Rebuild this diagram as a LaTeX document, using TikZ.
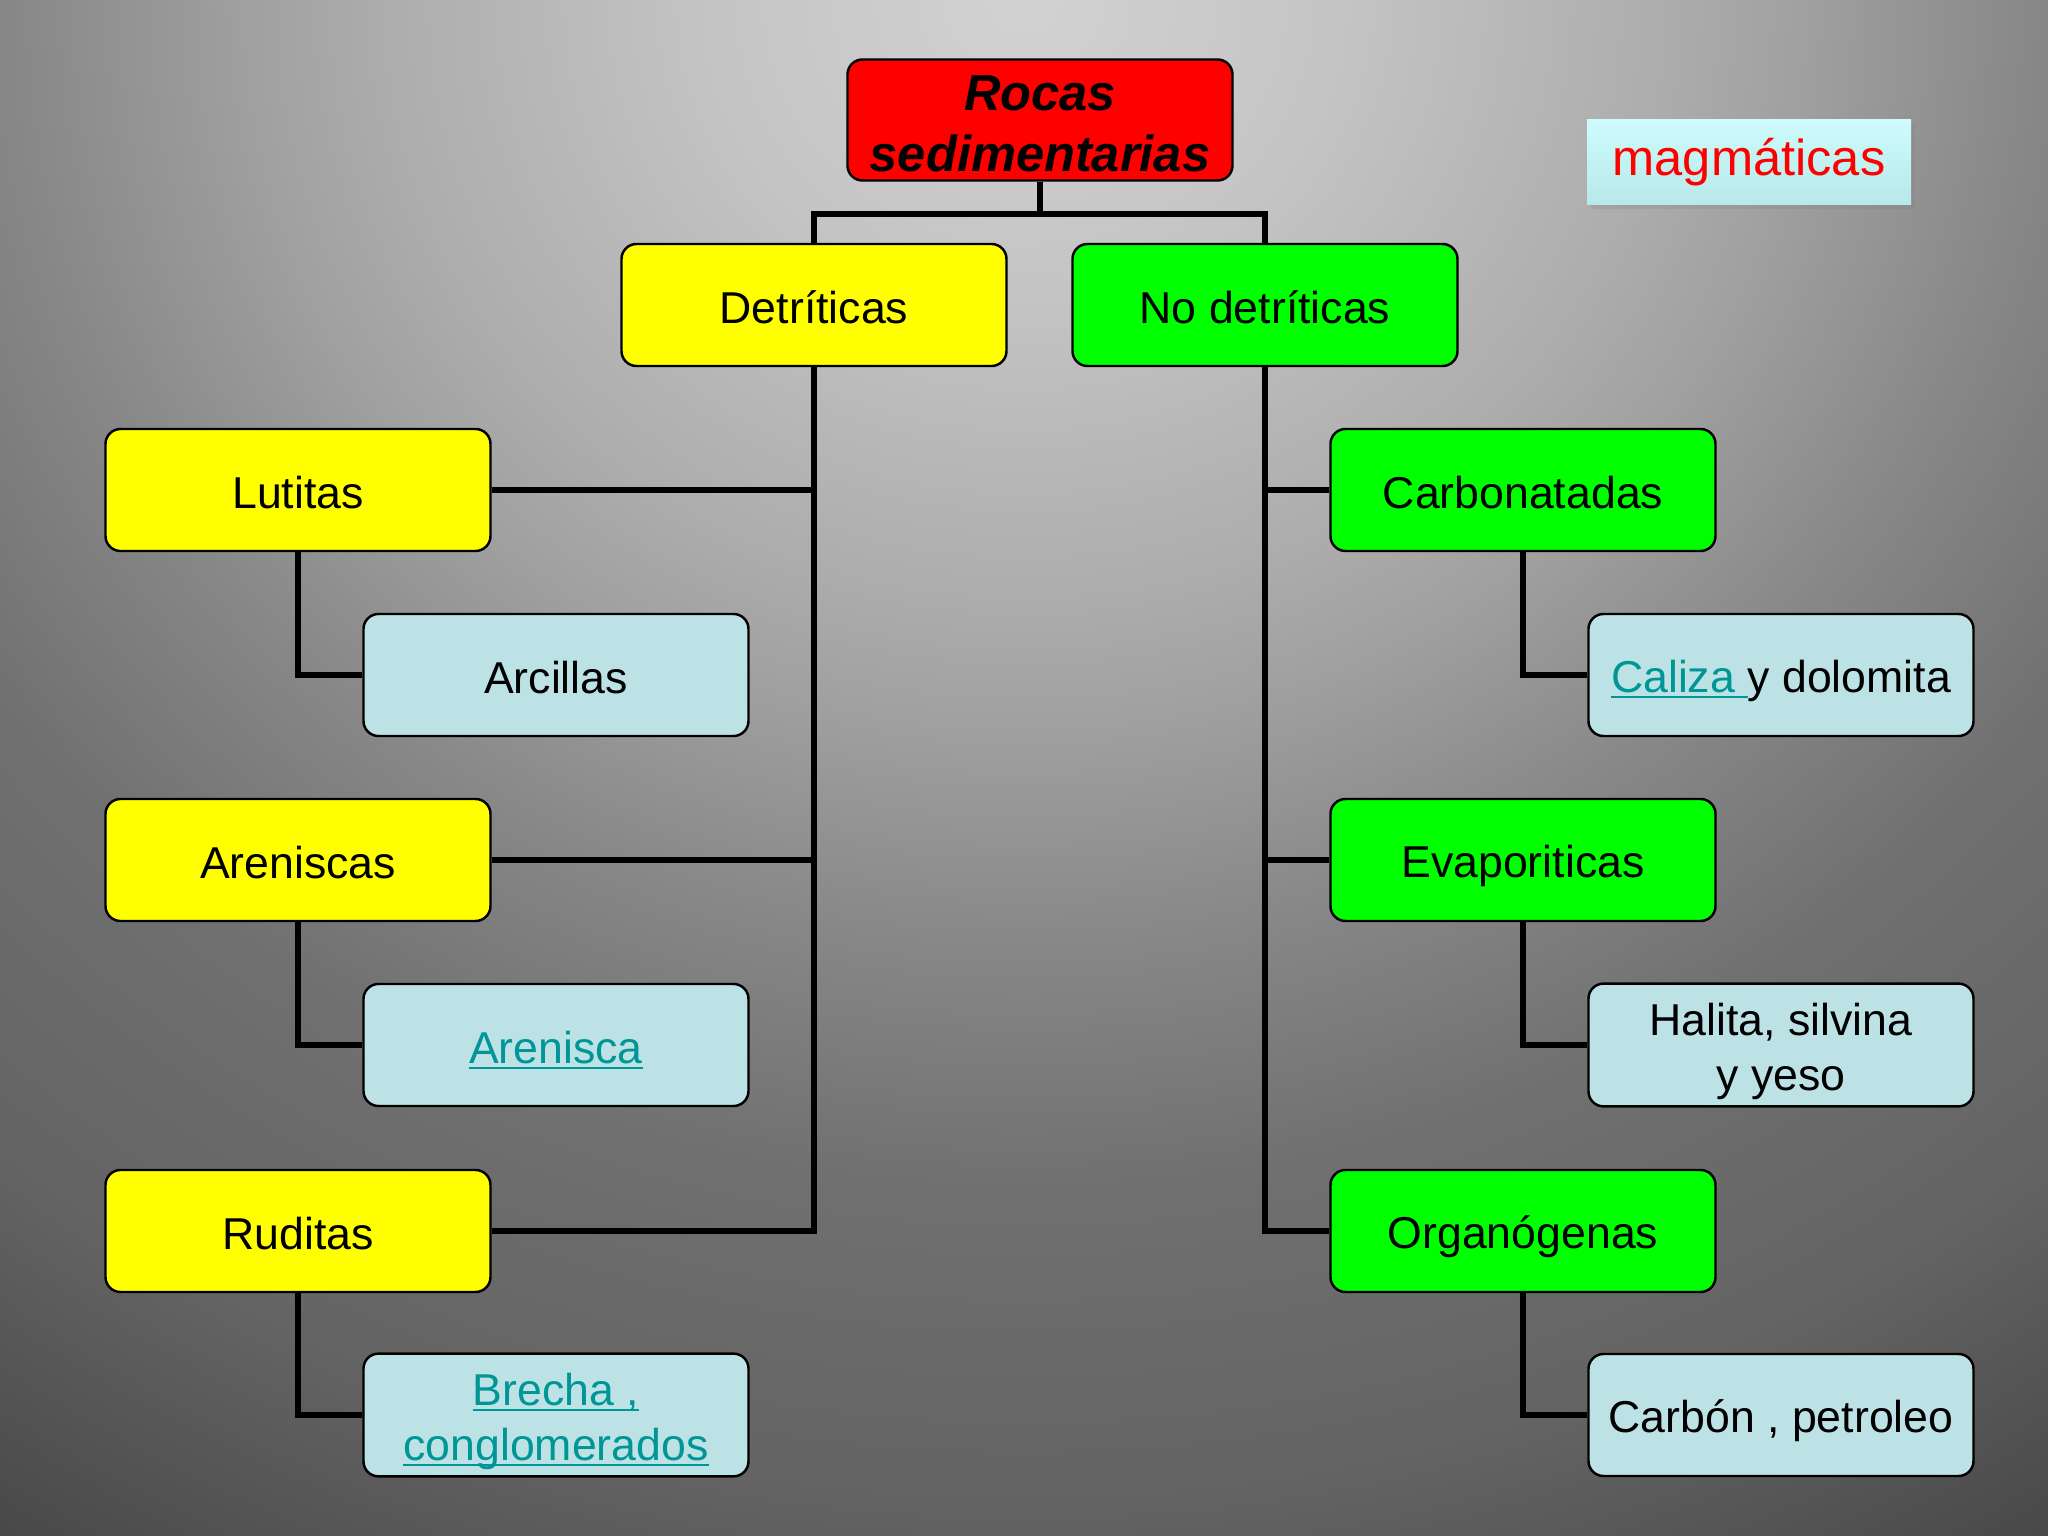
\documentclass[tikz,border=0pt]{standalone}
\usepackage{fontspec}
\setmainfont{Liberation Sans}
\usepackage{xcolor}
\usepackage{tikz}
\usetikzlibrary{positioning, shadows}

\definecolor{rocared}{RGB}{255,0,0}
\definecolor{detyellow}{RGB}{255,255,0}
\definecolor{nodetgreen}{RGB}{0,255,0}
\definecolor{examplecyan}{RGB}{189,226,230}
\definecolor{magtop}{RGB}{206,252,252}
\definecolor{magbot}{RGB}{184,232,234}
\definecolor{linkteal}{RGB}{0,150,150}
\definecolor{bgA}{gray}{0.824}
\definecolor{bgB}{gray}{0.77}
\definecolor{bgC}{gray}{0.675}
\definecolor{bgD}{gray}{0.627}
\definecolor{bgE}{gray}{0.53}
\definecolor{bgF}{gray}{0.44}
\definecolor{bgG}{gray}{0.39}
\definecolor{bgH}{gray}{0.28}

\pgfdeclareradialshading{slidebg}{\pgfpointorigin}{color(0bp)=(bgA); color(4bp)=(bgB); color(8.3bp)=(bgC); color(10bp)=(bgD); color(13bp)=(bgE); color(16.3bp)=(bgF); color(20.6bp)=(bgG); color(25bp)=(bgH); color(50bp)=(bgH)}

% link text: teal, thin underline just below the baseline
\newcommand{\enlace}[1]{\textcolor{linkteal}{\setbox0=\hbox{#1}\rlap{\rule[-0.13em]{\wd0}{0.045em}}\box0}}
\newcommand{\renglon}{\rule[-0.17em]{0pt}{1.17em}}

\begin{document}
\begin{tikzpicture}[
    basebox/.style={rectangle, rounded corners=0.15cm, draw=black, line width=0.7pt, minimum width=3.85cm, minimum height=1.22cm, inner sep=2pt, align=center},
    rockbox/.style={basebox, font=\fontsize{12.7}{15.6}\selectfont, execute at begin node={\rule[-2.16pt]{0pt}{14.86pt}}},
    titlebox/.style={basebox, inner ysep=0pt, font=\fontsize{14.4}{17.4}\selectfont\bfseries\itshape, execute at begin node={\rule[-2.45pt]{0pt}{16.85pt}}},
    conn/.style={draw=black, line width=1.7pt},
]

\useasboundingbox (0,0) rectangle (20.48,-15.36);
\begin{scope}
  \clip (0,0) rectangle (20.48,-15.36);
  \shade[shading=slidebg] (10.24,0) ellipse [x radius=19.5, y radius=18.2];
\end{scope}

% top of the tree
\node[titlebox, fill=rocared, minimum height=1.21cm] (rocas) at (10.40,-1.20) {\renglon Rocas\\sedimentarias};
\node[rockbox, fill=detyellow] (detrit) at (8.14,-3.05) {Detríticas};
\node[rockbox, fill=nodetgreen] (nodet) at (12.65,-3.05) {No detríticas};

\node[rectangle, top color=magtop, bottom color=magbot, minimum width=3.24cm, minimum height=0.85cm, drop shadow={opacity=0.25, shadow xshift=0.04cm, shadow yshift=-0.05cm}, text=rocared, font=\fontsize{14.4}{17}\selectfont] (magma) at (17.49,-1.62) {magmáticas};

% detriticas
\node[rockbox, fill=detyellow] (lutitas) at (2.98,-4.90) {Lutitas};
\node[rockbox, fill=examplecyan] (arcillas) at (5.56,-6.75) {Arcillas};
\node[rockbox, fill=detyellow] (areniscas) at (2.98,-8.60) {Areniscas};
\node[rockbox, fill=examplecyan] (arenisca) at (5.56,-10.45) {\enlace{Arenisca}};
\node[rockbox, fill=detyellow] (ruditas) at (2.98,-12.31) {Ruditas};
\node[rockbox, fill=examplecyan] (brecha) at (5.56,-14.15) {\renglon\enlace{Brecha ,}\\\enlace{conglomerados}};

% no detriticas
\node[rockbox, fill=nodetgreen] (carbonat) at (15.23,-4.90) {Carbonatadas};
\node[rockbox, fill=examplecyan] (caliza) at (17.81,-6.75) {\enlace{Caliza\ }y dolomita};
\node[rockbox, fill=nodetgreen] (evapor) at (15.23,-8.60) {Evaporiticas};
\node[rockbox, fill=examplecyan] (halita) at (17.81,-10.45) {\renglon Halita, silvina\\y yeso};
\node[rockbox, fill=nodetgreen] (organo) at (15.23,-12.31) {Organógenas};
\node[rockbox, fill=examplecyan] (carbon) at (17.81,-14.15) {Carbón , petroleo};

% connectors
\draw[conn] (rocas.south) -- ++(0,-0.32) coordinate (fork);
\draw[conn] (detrit.north) |- (fork) -| (nodet.north);

\draw[conn] (detrit.south) |- (ruditas.east);
\draw[conn] (lutitas.east) -- (lutitas.east -| detrit.south);
\draw[conn] (areniscas.east) -- (areniscas.east -| detrit.south);
\draw[conn] (lutitas.south) |- (arcillas.west);
\draw[conn] (areniscas.south) |- (arenisca.west);
\draw[conn] (ruditas.south) |- (brecha.west);

\draw[conn] (nodet.south) |- (organo.west);
\draw[conn] (carbonat.west) -- (carbonat.west -| nodet.south);
\draw[conn] (evapor.west) -- (evapor.west -| nodet.south);
\draw[conn] (carbonat.south) |- (caliza.west);
\draw[conn] (evapor.south) |- (halita.west);
\draw[conn] (organo.south) |- (carbon.west);

\end{tikzpicture}
\end{document}
